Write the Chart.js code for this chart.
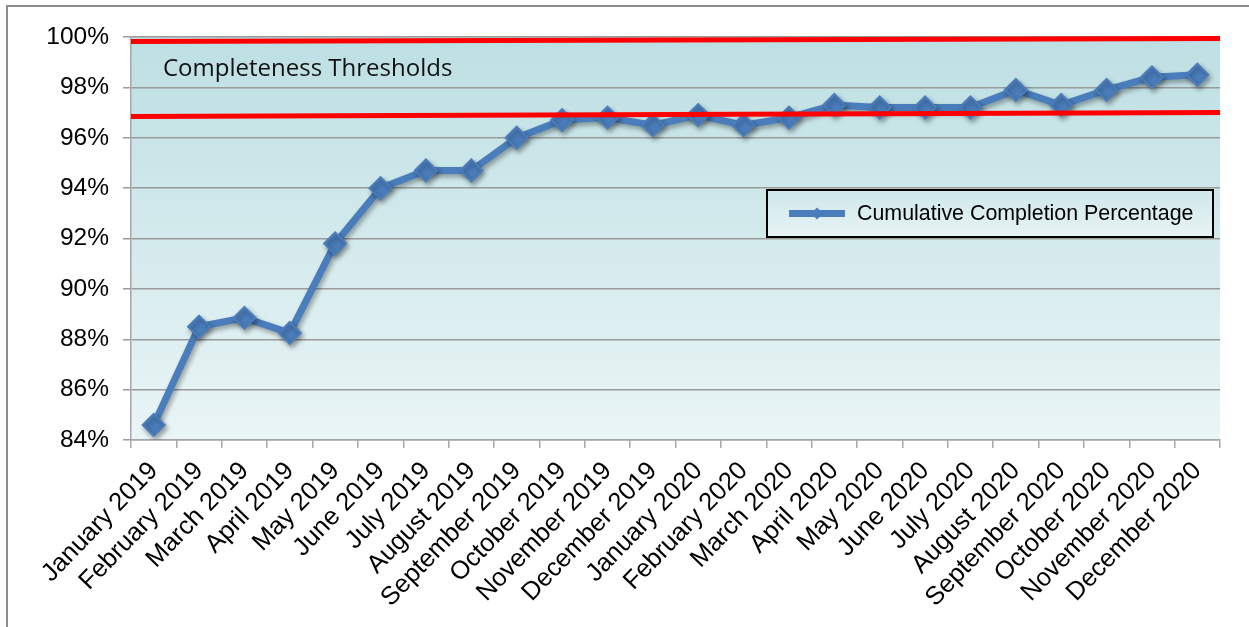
<!DOCTYPE html>
<html>
<head>
<meta charset="utf-8">
<script src="https://cdn.jsdelivr.net/npm/chart.js@4.4.1/dist/chart.umd.min.js"></script>
<style>
    html, body { margin: 0; padding: 0; background: #fff; overflow: hidden; }
    #frame { position: absolute; left: 6px; top: 5px; width: 1300px; height: 700px;
             border-left: 2px solid #8c8c8c; border-top: 2px solid #8c8c8c; }
    #wrap { position: absolute; left: 0; top: 0; width: 1249px; height: 627px; }
</style>
</head>
<body>
<div id="frame"></div>
<div id="wrap"><canvas id="chart"></canvas></div>
<script>
const MONTHS = [
    'January 2019', 'February 2019', 'March 2019', 'April 2019', 'May 2019', 'June 2019',
    'July 2019', 'August 2019', 'September 2019', 'October 2019', 'November 2019', 'December 2019',
    'January 2020', 'February 2020', 'March 2020', 'April 2020', 'May 2020', 'June 2020',
    'July 2020', 'August 2020', 'September 2020', 'October 2020', 'November 2020', 'December 2020'
];

const COMPLETION = [
    84.6, 88.5, 88.85, 88.25, 91.8, 94.0,
    94.7, 94.7, 96.0, 96.7, 96.8, 96.5,
    96.9, 96.5, 96.8, 97.3, 97.2, 97.2,
    97.2, 97.9, 97.3, 97.9, 98.4, 98.5
];

// threshold lines: value at left edge, value at right edge
const UPPER_THRESHOLD = [99.82, 99.94];
const LOWER_THRESHOLD = [96.84, 97.0];

const Y_MIN = 84;
const Y_MAX = 100;
const Y_STEP = 2;

const BLUE = '#4a7dbb';
const AXIS_FONT = "'Liberation Sans', Arial, sans-serif";

const plotBackground = {
    id: 'plotBackground',
    beforeDraw(chart) {
        const { ctx, chartArea: a } = chart;
        const g = ctx.createLinearGradient(0, a.top, 0, a.bottom);
        g.addColorStop(0, '#bddfe3');
        g.addColorStop(1, '#eaf5f6');
        ctx.save();
        ctx.fillStyle = g;
        ctx.fillRect(a.left, a.top, a.right - a.left, a.bottom - a.top);
        ctx.restore();
    }
};

const lineShadow = {
    id: 'lineShadow',
    beforeDatasetDraw(chart) {
        const ctx = chart.ctx;
        ctx.save();
        ctx.shadowColor = 'rgba(0, 0, 0, 0.35)';
        ctx.shadowBlur = 5;
        ctx.shadowOffsetX = 2;
        ctx.shadowOffsetY = 3;
    },
    afterDatasetDraw(chart) {
        chart.ctx.restore();
    }
};

const thresholds = {
    id: 'thresholds',
    afterDatasetsDraw(chart) {
        const { ctx, chartArea: a, scales: { y } } = chart;
        ctx.save();
        ctx.strokeStyle = '#ff0000';
        ctx.lineWidth = 5;
        [UPPER_THRESHOLD, LOWER_THRESHOLD].forEach((t) => {
            ctx.beginPath();
            ctx.moveTo(a.left, y.getPixelForValue(t[0]));
            ctx.lineTo(a.right, y.getPixelForValue(t[1]));
            ctx.stroke();
        });
        ctx.fillStyle = '#111';
        ctx.font = "24px 'Open Sans', sans-serif";
        ctx.textBaseline = 'middle';
        ctx.fillText('Completeness Thresholds', a.left + 32, 69);
        ctx.restore();
    }
};

const legendBox = {
    id: 'legendBox',
    afterDraw(chart) {
        const { ctx, chartArea: a } = chart;
        const right = a.right - 7, left = 767, top = 190, bottom = 237;
        const midY = (top + bottom) / 2;
        ctx.save();
        const g = ctx.createLinearGradient(0, top, 0, bottom);
        g.addColorStop(0, 'rgba(255,255,255,0)');
        g.addColorStop(1, 'rgba(255,255,255,0.45)');
        ctx.fillStyle = g;
        ctx.fillRect(left, top, right - left, bottom - top);
        ctx.strokeStyle = '#000';
        ctx.lineWidth = 2;
        ctx.strokeRect(left, top, right - left, bottom - top);

        ctx.strokeStyle = BLUE;
        ctx.lineWidth = 7;
        ctx.beginPath();
        ctx.moveTo(left + 22, midY);
        ctx.lineTo(left + 78, midY);
        ctx.stroke();
        ctx.fillStyle = BLUE;
        ctx.beginPath();
        const cx = left + 50;
        ctx.moveTo(cx - 6, midY);
        ctx.lineTo(cx, midY - 6);
        ctx.lineTo(cx + 6, midY);
        ctx.lineTo(cx, midY + 6);
        ctx.closePath();
        ctx.fill();

        ctx.fillStyle = '#000';
        ctx.font = '21.4px ' + AXIS_FONT;
        ctx.textBaseline = 'middle';
        ctx.fillText(chart.data.datasets[0].label, left + 90, midY + 1);
        ctx.restore();
    }
};

new Chart(document.getElementById('chart'), {
    type: 'line',
    data: {
        labels: MONTHS,
        datasets: [{
            label: 'Cumulative Completion Percentage',
            data: COMPLETION,
            borderColor: BLUE,
            backgroundColor: BLUE,
            borderWidth: 7,
            pointStyle: 'rectRot',
            pointRadius: 11,
            pointBorderWidth: 2,
            pointBackgroundColor: BLUE,
            pointBorderColor: BLUE,
            tension: 0,
            fill: false
        }]
    },
    options: {
        responsive: true,
        maintainAspectRatio: false,
        animation: false,
        layout: { padding: { top: 37, right: 29, left: 0, bottom: 0 } },
        plugins: {
            legend: { display: false },
            tooltip: { enabled: false }
        },
        scales: {
            x: {
                offset: true,
                grid: {
                    offset: true,
                    drawOnChartArea: false,
                    tickLength: 8,
                    color: '#a6a6a6',
                    lineWidth: 1.5
                },
                border: { color: '#a6a6a6', width: 1.5 },
                ticks: {
                    autoSkip: false,
                    minRotation: 46,
                    maxRotation: 46,
                    color: '#000',
                    padding: 8,
                    font: { family: AXIS_FONT, size: 25.5 }
                },
                afterFit(scale) { scale.height = 187; }
            },
            y: {
                min: Y_MIN,
                max: Y_MAX,
                grid: { color: '#9a9a9a', lineWidth: 1.5, tickLength: 8 },
                border: { color: '#a6a6a6', width: 1.5 },
                ticks: {
                    stepSize: Y_STEP,
                    color: '#000',
                    padding: 14,
                    font: { family: AXIS_FONT, size: 24.5 },
                    callback: (v) => v + '%'
                },
                afterFit(scale) { scale.width = 131; }
            }
        }
    },
    plugins: [plotBackground, lineShadow, thresholds, legendBox]
});
</script>
</body>
</html>
